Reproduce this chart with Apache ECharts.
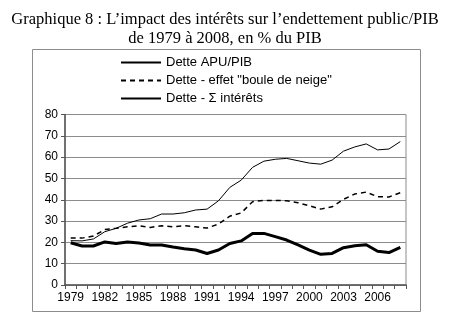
<!DOCTYPE html>
<html><head><meta charset="utf-8">
<script src="https://cdn.jsdelivr.net/npm/echarts@6/dist/echarts.min.js"></script>
<style>html,body{margin:0;padding:0;background:#fff}#c{width:450px;height:328px}</style>
</head><body><div id="c"></div>
<script>
const years = [];
for (let y = 1979; y <= 2008; y++) years.push(String(y));
const detteAPU = [20.8,20.7,21.6,25.0,26.6,29.0,30.5,31.1,33.3,33.3,33.9,35.2,35.6,39.5,45.8,49.2,55.2,58.1,59.0,59.4,58.3,57.2,56.7,58.6,62.8,64.8,66.2,63.4,63.8,67.3];
const detteBoule = [22.0,22.0,23.0,26.0,26.6,27.3,27.8,27.0,27.8,27.3,27.8,27.3,26.7,28.6,32.3,33.8,39.1,39.7,39.7,39.5,38.6,37.2,35.6,36.7,40.2,42.7,43.6,41.4,41.3,43.3];
const detteInt = [19.8,18.3,18.3,20.2,19.5,20.2,19.7,18.8,18.8,17.8,17.0,16.4,14.8,16.4,19.5,20.7,24.2,24.2,22.7,21.1,18.8,16.4,14.4,14.8,17.5,18.4,18.9,15.8,15.2,17.7];
const yTicks = [0,10,20,30,40,50,60,70,80];
const names = ['Dette APU/PIB','Dette - effet "boule de neige"','Dette - \u03A3 int\u00e9r\u00eats'];

const chart = echarts.init(document.getElementById('c'));
chart.setOption({
  animation: false,
  backgroundColor: '#fff',
  title: {
    text: 'Graphique 8 : L\u2019impact des int\u00e9r\u00eats sur l\u2019endettement public/PIB\nde 1979 \u00e0 2008, en % du PIB',
    left: 'center', top: 5,
    textStyle: { fontFamily: 'Liberation Serif', fontSize: 16.5, fontWeight: 'normal', color: '#000', lineHeight: 19 }
  },
  graphic: [{
    type: 'rect', shape: { x: 32.5, y: 49.5, width: 388, height: 262 },
    style: { fill: 'none', stroke: '#8c8c8c', lineWidth: 1 }, silent: true, z: -1
  }],
  legend: {
    orient: 'vertical', left: 115, top: 51,
    itemWidth: 40, itemHeight: 14, itemGap: 5,
    itemStyle: { opacity: 0 },
    textStyle: { fontFamily: 'Liberation Sans', fontSize: 13, color: '#000' },
    data: names
  },
  grid: { left: 65, right: 44, top: 114.5, bottom: 43, show: true, borderColor: '#8c8c8c', borderWidth: 1 },
  xAxis: {
    type: 'category', data: years, boundaryGap: true,
    axisLine: { lineStyle: { color: '#555', width: 1.5 } },
    axisTick: { show: true, interval: 0, length: 4, lineStyle: { color: '#555' } },
    axisLabel: { interval: 2, color: '#000', fontFamily: 'Liberation Sans', fontSize: 12, margin: 7 },
    splitLine: { show: false }
  },
  yAxis: {
    type: 'value', min: 0, max: 80, interval: 10,
    axisLine: { show: true, lineStyle: { color: '#555', width: 1.5 } },
    axisTick: { show: true, length: 4, lineStyle: { color: '#555' } },
    axisLabel: { color: '#000', fontFamily: 'Liberation Sans', fontSize: 12, margin: 7,
      formatter: v => yTicks.includes(v) ? String(v) : '' },
    splitLine: { lineStyle: { color: '#8c8c8c', width: 1 } }
  },
  series: [
    { name: names[0], type: 'line', data: detteAPU, symbol: 'none', lineStyle: { color: '#000', width: 1 }, itemStyle: { color: '#000' } },
    { name: names[1], type: 'line', data: detteBoule, symbol: 'none', lineStyle: { color: '#000', width: 1.5, type: [5, 4] }, itemStyle: { color: '#000' } },
    { name: names[2], type: 'line', data: detteInt, symbol: 'none', lineStyle: { color: '#000', width: 3 }, itemStyle: { color: '#000' } }
  ]
});
</script></body></html>
